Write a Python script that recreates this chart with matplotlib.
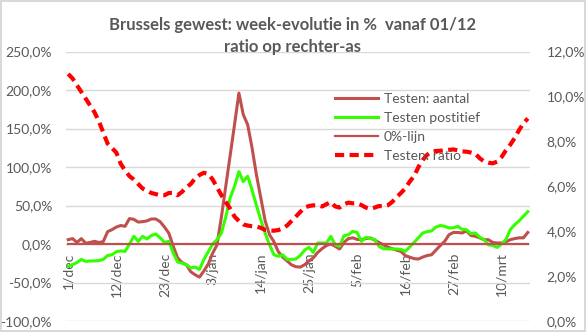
import matplotlib.pyplot as plt
import matplotlib.ticker as mticker
import numpy as np

# dagelijkse waarden vanaf 1/dec (week-evolutie in %)
aantal = [5.6, 7, 2, 7, 1, 2, 3.5, 2, 3, 16, 18.6, 22, 24, 23, 33, 32, 28.5, 29, 30, 32.5,
          32.5, 29, 22, 14, -3, -18, -24, -27, -36, -40, -43, -35, -26, -12, -1, 35, 75, 115, 155, 196,
          168, 155, 125, 90, 60, 30, 12, 3, -10, -17, -22, -27, -29.5, -30, -27, -22, -18, -11, -6, -2,
          0, -3, -6.5, 2, 7, 8, 6, 5.6, 7, 8, 5, 2, -1, -4, -6, -8, -9.6, -15, -17, -19,
          -19.5, -17, -15, -14, -8, -2, 3.4, 12, 15, 15, 14.3, 17, 11, 10, 8, 5.6, 5.6, 2, 1.3, 1.3,
          3, 5.6, 7, 8, 8, 15]
positief = [-29, -27, -24, -20, -22.6, -22, -22, -21.5, -20, -15, -14, -10, -9, -9.6, 0, 10, 3.4, 10, 6.5, 11,
            13, 8, 2, 3.4, -11.7, -23.4, -25, -27, -31, -30, -33, -20, -10, 0, 5.6, 14, 35, 60, 75, 94,
            81, 88, 70, 50, 31.5, 14, -1, -14, -16, -14, -20, -20, -19.5, -15, -8, -4.4, -11, 1.3, 1.3, 1.3,
            10, -1, -3, 10.8, 12, 16.4, 15, 3.4, 8.6, 7, 6, -3, -6, -6.5, -6.5, -6.5, -7, -9.6, -4, 2,
            8, 14.3, 16, 17, 22, 24, 23, 21, 21, 23, 19, 18.6, 13.4, 14.3, 9, 5.6, -1, -2, -4.4, 0,
            6, 18.6, 25, 30, 36, 42]
ratio = [11.0, 10.8, 10.5, 10.2, 9.9, 9.6, 9.3, 8.9, 8.4, 7.9, 7.7, 7.5, 7.0, 6.7, 6.45, 6.3, 6.1, 5.9, 5.8, 5.7,
         5.65, 5.6, 5.6, 5.7, 5.7, 5.6, 5.75, 5.95, 6.1, 6.35, 6.5, 6.6, 6.55, 6.3, 5.95, 5.6, 5.3, 5.0, 4.65, 4.45,
         4.3, 4.25, 4.22, 4.2, 4.15, 4.05, 4.03, 4.02, 4.05, 4.12, 4.25, 4.45, 4.65, 4.85, 5.05, 5.12, 5.15, 5.15, 5.1, 5.2,
         5.3, 5.1, 5.05, 5.2, 5.27, 5.24, 5.24, 5.16, 5.05, 5.0, 5.05, 5.12, 5.1, 5.15, 5.3, 5.5, 5.7, 5.9, 6.2, 6.45,
         6.85, 7.17, 7.4, 7.54, 7.57, 7.58, 7.6, 7.62, 7.64, 7.6, 7.55, 7.54, 7.5, 7.45, 7.25, 7.1, 7.05, 7.02, 7.1, 7.3,
         7.6, 7.85, 8.15, 8.5, 8.8, 9.02]
nul_lijn = [0] * len(aantal)

tick_pos = [0, 11, 22, 33, 44, 55, 66, 77, 88, 99]
tick_labels = ['1/dec', '12/dec', '23/dec', '3/jan', '14/jan', '25/jan', '5/feb', '16/feb', '27/feb', '10/mrt']

grey = '#595959'
plt.rcParams['font.family'] = ['Lato', 'DejaVu Sans']

fig = plt.figure(figsize=(5.86, 3.32), dpi=100)
fig.patch.set_edgecolor('#d9d9d9')
fig.patch.set_linewidth(1.5)
ax = fig.add_axes([66/586, 1-321/332, 464/586, (321-51.5)/332])
x = np.arange(len(aantal))

l1, = ax.plot(x, aantal, color='#c0504d', lw=2.2, label='Testen: aantal')
l2, = ax.plot(x, positief, color='#33ff00', lw=2.2, label='Testen postitief')
l3, = ax.plot(x, nul_lijn, color='#c0504d', lw=1.6, label='0%-lijn')
ax.set_ylim(-100, 250)
ax.set_xlim(-0.5, len(aantal) - 0.5)
for s in ax.spines.values():
    s.set_color('none')
ax.spines['bottom'].set_position(('data', 0))
ax.yaxis.set_major_locator(mticker.MultipleLocator(50))
ax.yaxis.set_major_formatter(mticker.FuncFormatter(lambda v, p: f'{v:.1f}%'.replace('.', ',')))
ax.grid(axis='y', color='#d9d9d9', lw=1)
ax.set_axisbelow(True)
ax.set_xticks(tick_pos)
ax.set_xticklabels(tick_labels)
ax.tick_params(axis='y', length=0, pad=10, labelsize=10, labelcolor=grey)
ax.tick_params(axis='x', length=0, pad=6, labelsize=10, labelcolor=grey, labelrotation=90)

ax2 = ax.twinx()
l4, = ax2.plot(x, ratio, color='#ff0000', lw=3, dashes=(2.2, 1.3), label='Testen: ratio')
ax2.set_ylim(0, 12)
ax2.yaxis.set_major_locator(mticker.MultipleLocator(2))
ax2.yaxis.set_major_formatter(mticker.FuncFormatter(lambda v, p: f'{v:.1f}%'.replace('.', ',')))
for s in ax2.spines.values():
    s.set_color('none')
ax2.tick_params(axis='y', length=0, pad=12, labelsize=10, labelcolor=grey)

leg = ax2.legend(handles=[l1, l2, l3, l4], loc='upper left', bbox_to_anchor=(328/586, 1-86/332),
                 bbox_transform=fig.transFigure, frameon=False, fontsize=10, handlelength=3.1,
                 handletextpad=0.4, labelspacing=0.5, borderpad=0)
for t in leg.get_texts():
    t.set_color(grey)

fig.text(0.5, 1-25/332, 'Brussels gewest: week-evolutie in %  vanaf 01/12', ha='center', va='center',
         fontsize=12, fontweight='bold', color=grey)
fig.text(0.5, 1-47/332, 'ratio op rechter-as', ha='center', va='center',
         fontsize=12, fontweight='bold', color=grey)

fig.savefig('out.png', dpi=100)
